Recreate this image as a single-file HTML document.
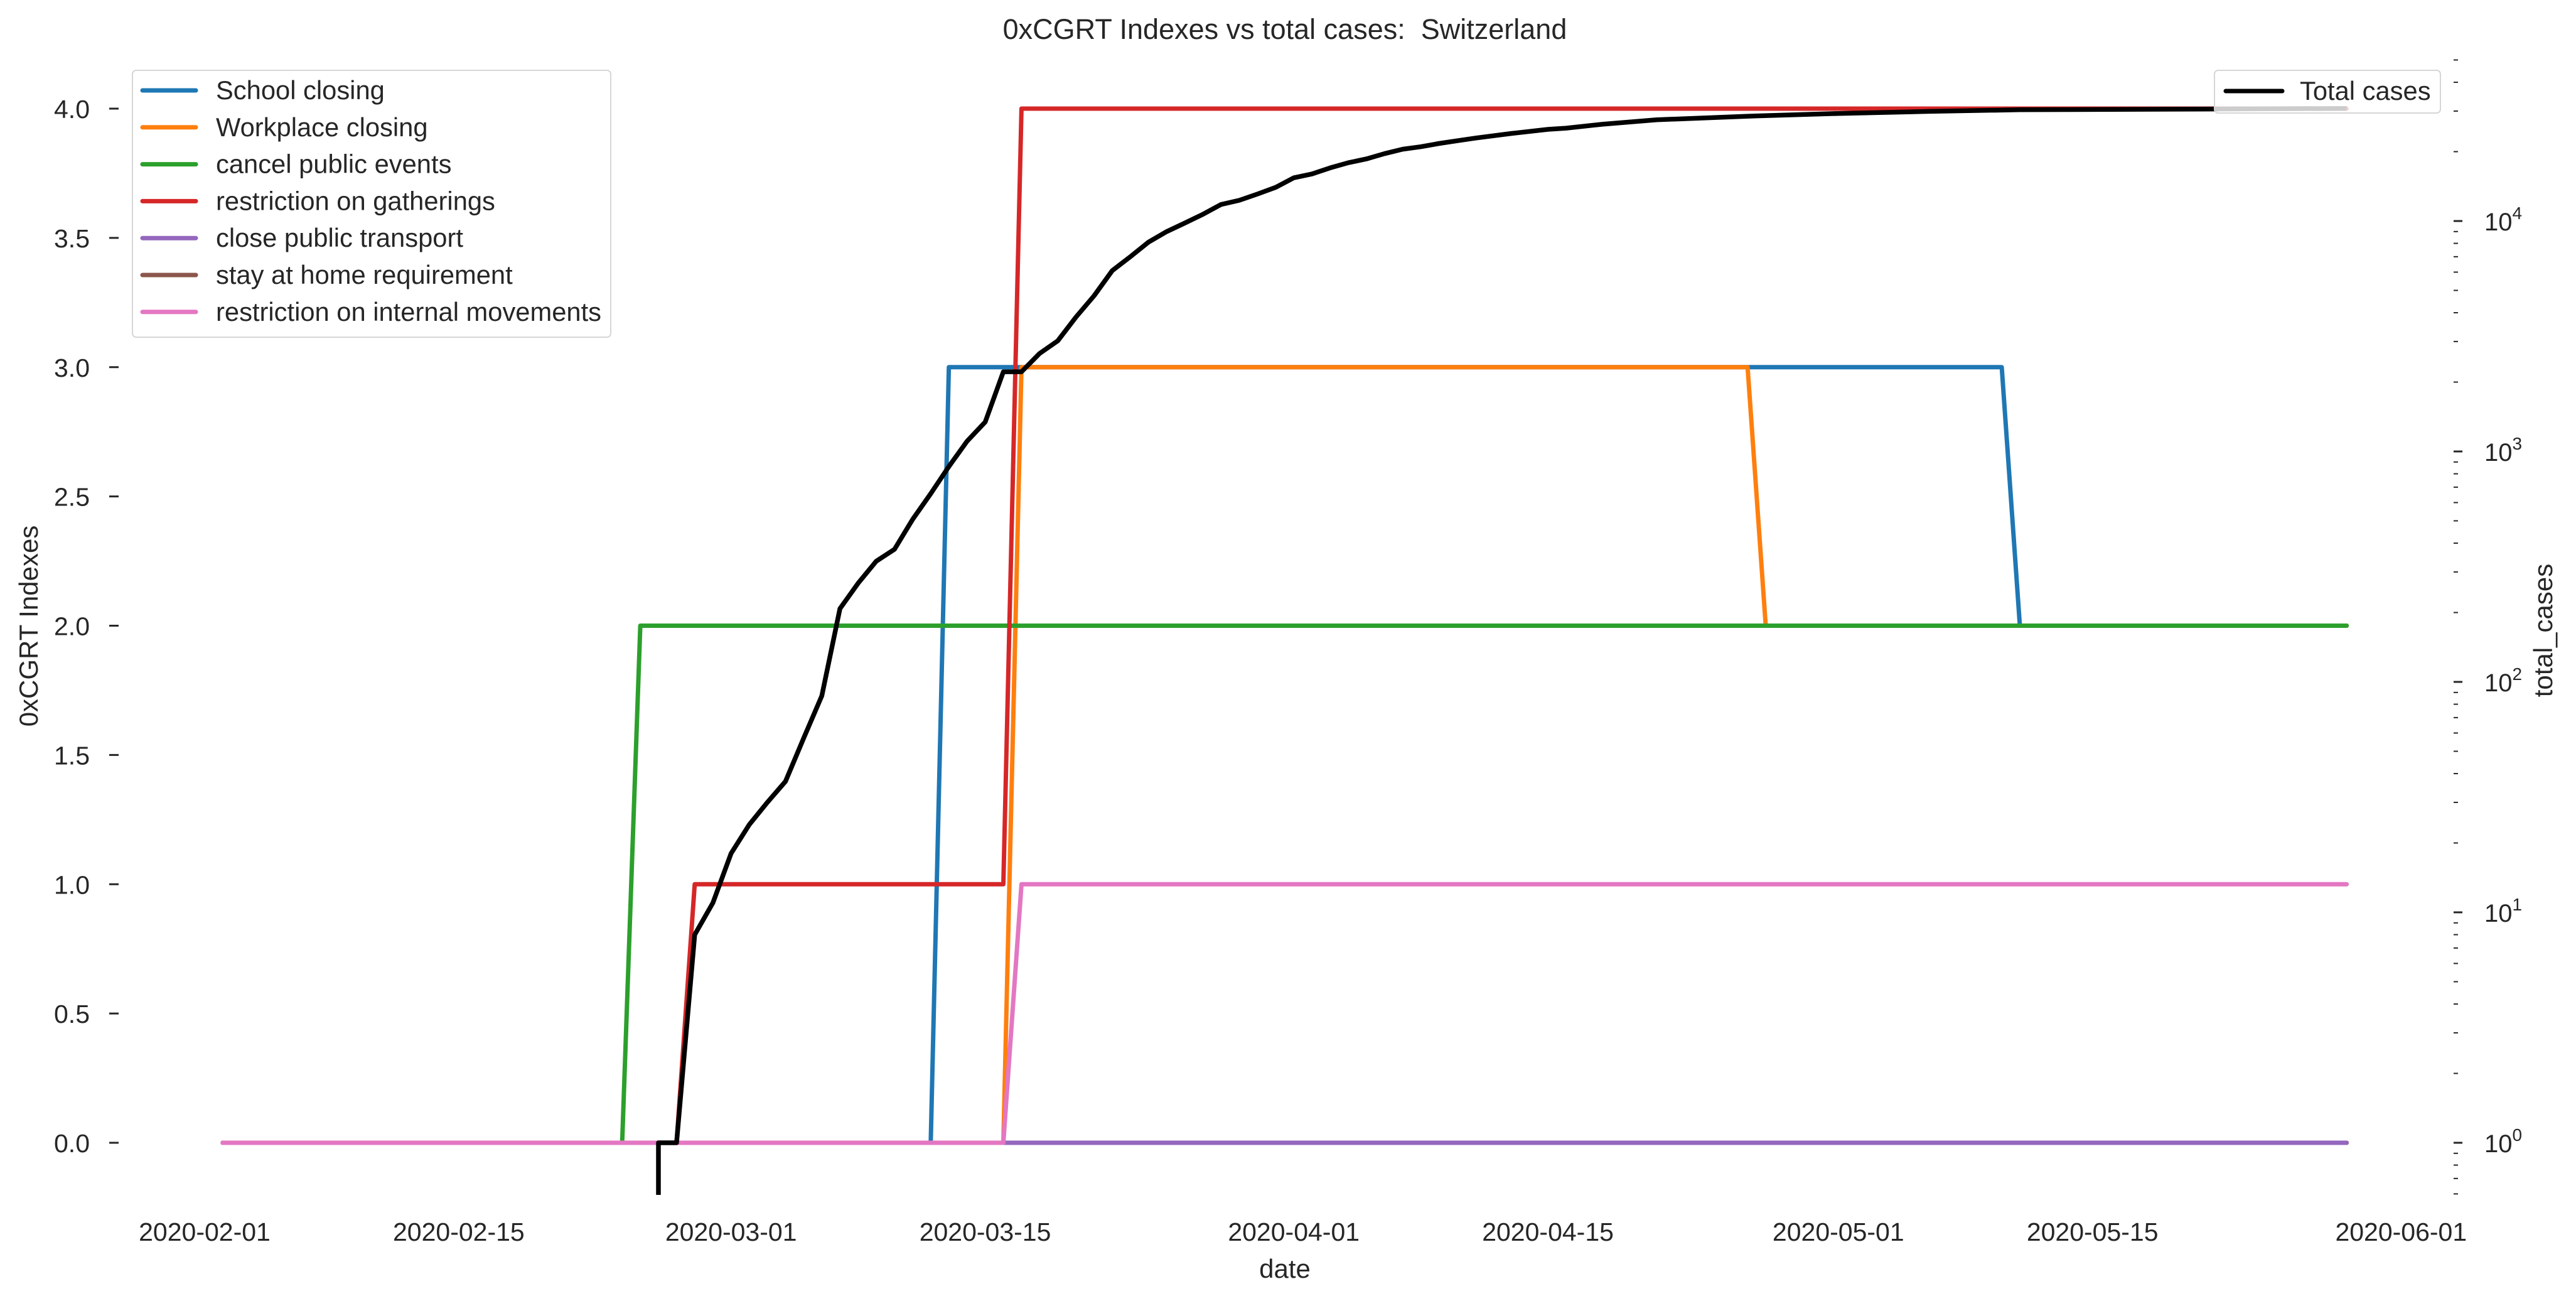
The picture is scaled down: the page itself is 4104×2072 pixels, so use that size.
<!DOCTYPE html>
<html><head><meta charset="utf-8"><style>
html,body{margin:0;padding:0;background:#fff;}
svg{display:block;font-family:"Liberation Sans",Arial,sans-serif;}
</style></head><body>
<svg id="chart" width="4104" height="2072" viewBox="0 0 4104 2072" xmlns="http://www.w3.org/2000/svg">
<rect x="0" y="0" width="4104" height="2072" fill="#fff"/>
<text x="2047" y="62" font-size="45" text-anchor="middle" fill="#262626">0xCGRT Indexes vs total cases:&#160; Switzerland</text>
<text x="2047" y="2035" font-size="42" text-anchor="middle" fill="#262626">date</text>
<text x="0" y="0" font-size="42" text-anchor="middle" fill="#262626" transform="translate(60,997) rotate(-90)">0xCGRT Indexes</text>
<text x="0" y="0" font-size="42" text-anchor="middle" fill="#262626" transform="translate(4066,1004) rotate(-90)">total_cases</text>
<g id="grid"></g>
<g id="series"></g>
<g id="legend-left"></g>
<g id="legend-right"></g>
</svg>
<script>
// ---- data ----
const xTickLabels = ["2020-02-01","2020-02-15","2020-03-01","2020-03-15","2020-04-01","2020-04-15","2020-05-01","2020-05-15","2020-06-01"];
const xTickDays = [0,14,29,43,60,74,90,104,121];
const yTicks = [0,0.5,1,1.5,2,2.5,3,3.5,4];
const logMajors = [0,1,2,3,4];
const seriesNames = ["School closing","Workplace closing","cancel public events","restriction on gatherings","close public transport","stay at home requirement","restriction on internal movements"];
const seriesColors = ["#1f77b4","#ff7f0e","#2ca02c","#d62728","#9467bd","#8c564b","#e377c2"];
// step series: [startDay, value] change points; data spans days 1..118
const schoolSteps = [[1,0],[41,3],[100,2]];
const workplaceSteps = [[1,0],[45,3],[86,2]];
const eventsSteps = [[1,0],[24,2]];
const gatheringSteps = [[1,0],[27,1],[45,4]];
const transportSteps = [[1,0]];
const stayHomeSteps = [[1,0]];
const internalSteps = [[1,0],[45,1]];
const firstDay = 1, lastDay = 118;
const caseDays = [25,26,27,28,29,30,31,32,33,34,35,36,37,38,39,40,41,42,43,44,45,46,47,48,49,50,51,52,53,54,55,56,57,58,59,60,61,62,63,64,65,66,67,68,69,70,72,74,75,77,80,85,90,95,100,110,118];
const caseValues = [1,1,8,11,18,24,30,37,57,87,208,268,334,376,507,656,860,1107,1342,2217,2217,2663,3020,3830,4740,6090,7000,8100,9000,9800,10700,11800,12300,13100,14000,15400,16000,17000,17900,18600,19600,20500,21000,21700,22300,22900,24000,25000,25300,26300,27500,28500,29300,29900,30400,30600,30800];

// ---- axes ----
const X0 = 326, PX_DAY = 28.92;
const xs = d => X0 + PX_DAY * d;
const ys = v => 1820 - 411.75 * v;
const yl = c => 1820 - 367 * Math.log10(c);
const Y_BOTTOM = 1903;
const NS = "http://www.w3.org/2000/svg";
function mk(tag, attrs, parent) {
  const e = document.createElementNS(NS, tag);
  for (const k in attrs) e.setAttribute(k, attrs[k]);
  parent.appendChild(e);
  return e;
}
const grid = document.getElementById('grid');
xTickLabels.forEach((lab, i) => {
  const t = mk('text', {x: xs(xTickDays[i]), y: 1976, 'font-size': 41, 'text-anchor': 'middle', fill: '#262626'}, grid);
  
  
  t.textContent = lab;
});
yTicks.forEach(v => {
  const y = ys(v);
  const tk = mk('line', {x1: 174, x2: 189, y1: y, y2: y, stroke: '#262626', 'stroke-width': 3}, grid);
  
  
  const t = mk('text', {x: 143, y: y + 15, 'font-size': 41, 'text-anchor': 'end', fill: '#262626'}, grid);
  
  
  t.textContent = v.toFixed(1);
});
for (let k = -1; k <= 4; k++) {
  for (let m = 1; m <= 9; m++) {
    const c = m * Math.pow(10, k);
    const y = yl(c);
    if (y > Y_BOTTOM || y < 91) continue;
    const major = m === 1;
    const tk = mk('line', {x1: 3909, x2: major ? 3923 : 3916, y1: y, y2: y, stroke: '#262626', 'stroke-width': major ? 3 : 2}, grid);
    
    
  }
}
logMajors.forEach(p => {
  const y = yl(Math.pow(10, p));
  const t = mk('text', {x: 3958, y: y + 15, 'font-size': 40, fill: '#262626'}, grid);
  
  
  t.textContent = '10';
  const s = mk('tspan', {dy: -18, 'font-size': 28}, t);
  s.textContent = String(p);
});

// ---- series ----
const series = document.getElementById('series');
const allSteps = [schoolSteps, workplaceSteps, eventsSteps, gatheringSteps, transportSteps, stayHomeSteps, internalSteps];
const drawOrder = [0, 1, 2, 3, 5, 4, 6];
function valueAt(steps, d) { let v = steps[0][1]; for (const s of steps) if (d >= s[0]) v = s[1]; return v; }
drawOrder.forEach(i => {
  const steps = allSteps[i];
  const pts = [];
  for (let d = firstDay; d <= lastDay; d++) pts.push(xs(d).toFixed(1) + ',' + ys(valueAt(steps, d)).toFixed(1));
  const pl = mk('polyline', {points: pts.join(' '), fill: 'none', stroke: seriesColors[i], 'stroke-width': 7, 'stroke-linejoin': 'round', 'stroke-linecap': 'round'}, series);
  
  
});
const cpts = [xs(caseDays[0]).toFixed(1) + ',' + Y_BOTTOM];
caseDays.forEach((d, i) => cpts.push(xs(d).toFixed(1) + ',' + yl(caseValues[i]).toFixed(1)));
const cl = mk('polyline', {points: cpts.join(' '), fill: 'none', stroke: '#000', 'stroke-width': 7.5, 'stroke-linejoin': 'round'}, series);



// ---- legends ----
const lg = document.getElementById('legend-left');
mk('rect', {x: 211, y: 112, width: 762, height: 425, rx: 6, fill: '#fff', 'fill-opacity': 0.8, stroke: '#d6d6d6', 'stroke-width': 2}, lg);
seriesNames.forEach((n, i) => {
  const y = 144 + i * 58.8;
  const ln = mk('line', {x1: 227, x2: 312, y1: y, y2: y, stroke: seriesColors[i], 'stroke-width': 7, 'stroke-linecap': 'round'}, lg);
  
  
  const t = mk('text', {x: 344, y: y + 14, 'font-size': 41.7, fill: '#262626'}, lg);
  
  
  t.textContent = n;
});
const lr = document.getElementById('legend-right');
mk('rect', {x: 3528, y: 112, width: 360, height: 68, rx: 6, fill: '#fff', 'fill-opacity': 0.8, stroke: '#d6d6d6', 'stroke-width': 2}, lr);
const l2 = mk('line', {x1: 3546, x2: 3636, y1: 145, y2: 145, stroke: '#000', 'stroke-width': 7, 'stroke-linecap': 'round'}, lr);


const t2 = mk('text', {x: 3664, y: 159, 'font-size': 41.7, fill: '#262626'}, lr);


t2.textContent = 'Total cases';
</script>
</body></html>
